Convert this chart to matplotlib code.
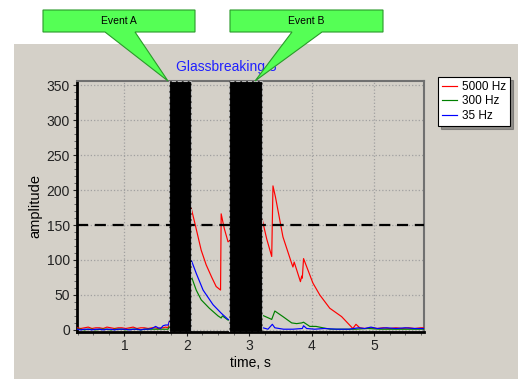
import numpy as np
import matplotlib
matplotlib.use("Agg")
import matplotlib.pyplot as plt
from matplotlib.patches import Polygon, Rectangle

plt.rcParams['font.family'] = ['Liberation Sans', 'DejaVu Sans']

# quiet part before the first event (shared times)
t_pre = [0.24, 0.30, 0.36, 0.42, 0.48, 0.54, 0.60, 0.66, 0.72, 0.78, 0.84, 0.90,
         0.96, 1.02, 1.08, 1.14, 1.20, 1.26, 1.32, 1.38, 1.44, 1.50, 1.54, 1.58,
         1.62, 1.66, 1.70]
red_pre = [3, 2, 3, 4, 2, 3, 3, 2, 4, 3, 2, 3, 3, 2, 3, 4, 2, 3, 3, 2, 3, 3, 2, 3, 3, 4, 3]
green_pre = [1, 1, 0, 1, 1, 0, 1, 1, 1, 0, 1, 1, 1, 0, 1, 1, 1, 0, 1, 1, 1, 1, 1, 1, 1, 1, 1]
blue_pre = [1, 0, 1, 1, 0, 1, 1, 0, 1, 1, 0, 1, 1, 1, 0, 1, 1, 0, 1, 1, 2, 5, 3, 2, 6, 7, 7]

# 5000 Hz after events
t_red = [2.07, 2.13, 2.23, 2.31, 2.40, 2.47, 2.54, 2.55, 2.60, 2.66,
         3.21, 3.28, 3.36, 3.38, 3.42, 3.54, 3.68, 3.70, 3.72, 3.82, 3.84, 3.85, 3.87,
         4.02, 4.13, 4.29, 4.48, 4.66, 4.71, 4.77, 4.85, 4.95, 5.05, 5.15, 5.25,
         5.35, 5.45, 5.55, 5.65, 5.75, 5.80]
v_red = [174, 152, 114, 93, 75, 62, 57, 166, 145, 126,
         157, 130, 105, 206, 190, 133, 95, 90, 97, 69, 77, 74, 102,
         67, 50, 31, 19, 2, 8, 3, 2, 3, 2, 3, 2, 3, 2, 3, 2, 3, 3]

# 300 Hz after events
t_green = [2.07, 2.15, 2.23, 2.36, 2.50, 2.55, 2.57, 2.66,
           3.21, 3.36, 3.41, 3.54, 3.68, 3.76, 3.84, 3.87, 3.97, 4.07, 4.18,
           4.30, 4.50, 4.70, 4.90, 5.10, 5.30, 5.50, 5.70, 5.80]
v_green = [77, 57, 43, 31, 20, 17, 20, 14,
           21, 15, 27, 19, 10, 9, 10, 11, 5, 5, 3,
           1, 1, 1, 2, 1, 1, 1, 1, 1]

# 35 Hz after events
t_blue = [2.07, 2.15, 2.26, 2.42, 2.55, 2.66,
          3.22, 3.30, 3.37, 3.41, 3.55, 3.70, 3.85, 3.87, 3.92, 4.05, 4.20, 4.40,
          4.60, 4.75, 4.85, 4.95, 5.05, 5.20, 5.35, 5.50, 5.65, 5.80]
v_blue = [100, 81, 57, 36, 24, 15,
          3, 1, 8, 3, 1, 1, 2, 6, 2, 1, 2, 1,
          1, 3, 2, 4, 2, 3, 2, 3, 2, 2]

events = [(1.71, 2.06), (2.67, 3.21)]
threshold = 150

W, H = 518, 379
fig = plt.figure(figsize=(W / 100, H / 100), dpi=100)
fig.patch.set_facecolor('white')

def fx(x):
    return x / W

def fy(y):
    return 1 - y / H

bg = '#d4d0c8'
fig.add_artist(Rectangle((fx(14), 0), 1 - fx(14), fy(44), transform=fig.transFigure,
                         facecolor=bg, edgecolor='none', zorder=-5))

ax = fig.add_axes([fx(77), fy(332), fx(424) - fx(77), fy(81) - fy(332)])
ax.set_facecolor(bg)

ax.plot(t_pre + t_red, red_pre + v_red, color='red', lw=0.85, label='5000 Hz', zorder=3)
ax.plot(t_pre + t_green, green_pre + v_green, color='green', lw=0.85, label='300 Hz', zorder=3)
ax.plot(t_pre + t_blue, blue_pre + v_blue, color='blue', lw=0.85, label='35 Hz', zorder=3)

for a, b in events:
    ax.axvspan(a, b, facecolor='black', edgecolor='#bbbbbb', linestyle='--', lw=0.8, zorder=4)

ax.axhline(threshold, color='black', ls=(0, (5, 3)), lw=1.6, zorder=5)

ax.set_xlim(0.24, 5.80)
ax.set_ylim(-3, 356)
ax.set_xticks([1, 2, 3, 4, 5])
ax.set_xticks(np.arange(0.25, 5.8, 0.25), minor=True)
ax.set_yticks(range(0, 351, 50))
ax.set_yticks(range(0, 351, 10), minor=True)
ax.grid(True, which='major', color='#a0a0a0', ls=':', lw=0.9)
ax.tick_params(labelsize=10, length=3, width=0.8, colors='#222222', pad=2)
ax.tick_params(which='minor', length=2, width=0.6, colors='#555555')
for s in ['left', 'bottom']:
    ax.spines[s].set_linewidth(2)
    ax.spines[s].set_color('black')
for s in ['top', 'right']:
    ax.spines[s].set_linewidth(1.5)
    ax.spines[s].set_color('#707070')
ax.set_xlabel('time, s', fontsize=10, labelpad=2)
ax.set_ylabel('amplitude', fontsize=10.5, labelpad=3)

fig.text(fx(226), fy(67), 'Glassbreaking 3', color='#2020ff', fontsize=10,
         ha='center', va='center', zorder=2)

leg = ax.legend(loc='upper left', bbox_to_anchor=(fx(438), fy(77)),
                bbox_transform=fig.transFigure, fontsize=8.5, frameon=True,
                fancybox=False, shadow=True, handlelength=1.3, handletextpad=0.4,
                borderpad=0.35, labelspacing=0.2, borderaxespad=0)
leg.get_frame().set_edgecolor('black')
leg.get_frame().set_facecolor('white')
leg.get_frame().set_linewidth(0.8)

callouts = [
    ('Event A', (43, 195), (105, 135), (168, 81)),
    ('Event B', (230, 383), (292, 322), (255, 81)),
]
for label, (x0, x1), (b0, b1), tip in callouts:
    pts = [(x0, 10), (x1, 10), (x1, 32), (b1, 32), tip, (b0, 32), (x0, 32)]
    fig.add_artist(Polygon([(fx(x), fy(y)) for x, y in pts], closed=True,
                           transform=fig.transFigure, facecolor='#55ff55',
                           edgecolor='#2a9a2a', lw=0.8, zorder=10))
    fig.text(fx((x0 + x1) / 2), fy(20.5), label, fontsize=7.5, ha='center',
             va='center', zorder=11)

fig.savefig('out.png', dpi=100)
